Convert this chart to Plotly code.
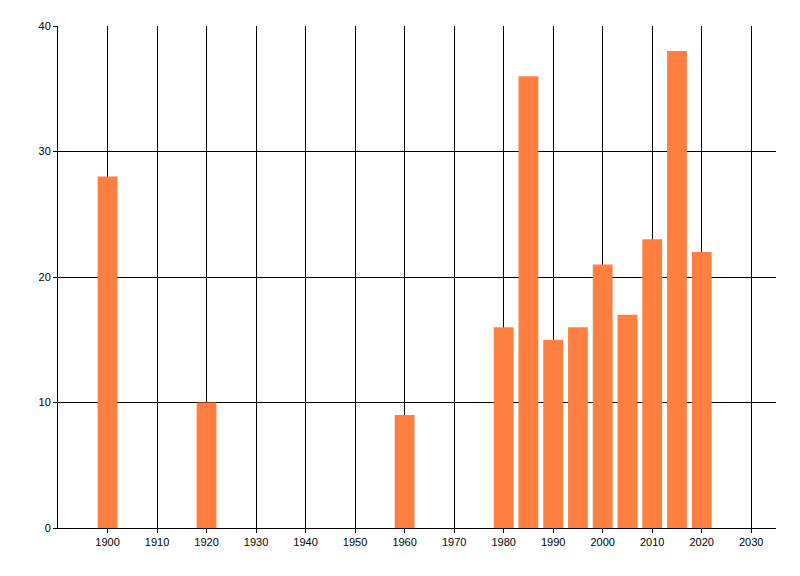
import plotly.graph_objects as go

# Data
years = [1900, 1920, 1960, 1980, 1985, 1990, 1995, 2000, 2005, 2010, 2015, 2020]
counts = [28, 10, 9, 16, 36, 15, 16, 21, 17, 23, 38, 22]
x_ticks = list(range(1900, 2031, 10))
y_ticks = [0, 10, 20, 30, 40]

fig = go.Figure()
fig.add_trace(go.Bar(
    x=years, y=counts, width=4,
    marker=dict(color='#FF7F41', line=dict(width=0)),
))

# the page has an 8px body margin, so the figure is a bit smaller
fig.update_layout(
    width=792, height=568,
    margin=dict(l=50, r=24, t=18, b=48),
    paper_bgcolor='white', plot_bgcolor='white',
    showlegend=False,
    font=dict(family='Liberation Sans, Arial, sans-serif', size=11, color='black'),
    xaxis=dict(
        range=[1890, 2035], tickvals=x_ticks,
        showgrid=True, gridcolor='black', gridwidth=1,
        showline=True, linecolor='black', linewidth=1,
        ticks='outside', ticklen=4, tickcolor='black',
        zeroline=False,
    ),
    yaxis=dict(
        range=[0, 40], tickvals=y_ticks,
        showgrid=True, gridcolor='black', gridwidth=1,
        showline=True, linecolor='black', linewidth=1,
        ticks='outside', ticklen=4, tickcolor='black',
        zeroline=False,
    ),
)

fig.write_html("out.html")
